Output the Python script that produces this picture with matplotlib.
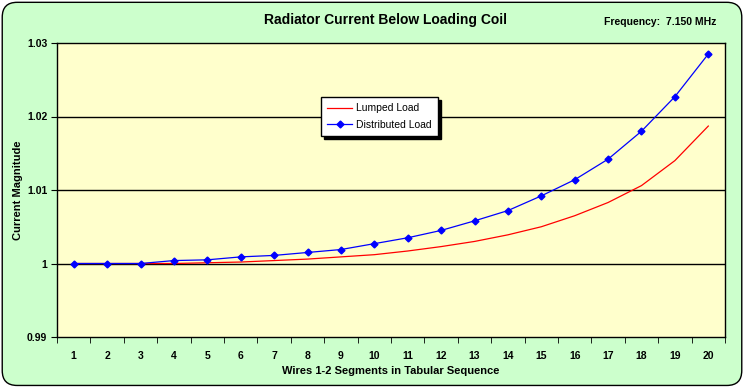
import matplotlib.pyplot as plt
from matplotlib.patches import FancyBboxPatch
import numpy as np

plt.rcParams["font.family"] = ["Liberation Sans", "DejaVu Sans"]
plt.rcParams["font.weight"] = "bold"

segments = list(range(1, 21))
lumped = [1.0000, 1.0000, 1.0000, 1.0000, 1.0001, 1.0002, 1.0004, 1.0006, 1.0009, 1.0012,
          1.0017, 1.0023, 1.0030, 1.0039, 1.0050, 1.0065, 1.0083, 1.0106, 1.0140, 1.0187]
distributed = [1.0000, 1.0000, 1.0000, 1.0004, 1.0005, 1.0009, 1.0011, 1.0015, 1.0019, 1.0027,
               1.0035, 1.0045, 1.0058, 1.0072, 1.0092, 1.0114, 1.0142, 1.0180, 1.0227, 1.0285]
y_ticks = [0.99, 1.00, 1.01, 1.02, 1.03]
y_labels = ["0.99", "1", "1.01", "1.02", "1.03"]


def main():
    fig = plt.figure(figsize=(7.44, 3.87), dpi=100)
    fig.patch.set_facecolor("white")
    bg = FancyBboxPatch((0.003, 0.004), 0.994, 0.99, boxstyle="round,pad=0,rounding_size=0.02",
                        transform=fig.transFigure, facecolor="#CCFFCC", edgecolor="black",
                        linewidth=1, mutation_aspect=744 / 387, zorder=-10)
    fig.patches.append(bg)

    ax = fig.add_axes([57 / 744, 1 - 337 / 387, 668 / 744, 294 / 387])
    ax.set_facecolor("#FFFFCC")

    ax.plot(segments, lumped, color="red", linewidth=0.9, label="Lumped Load")
    ax.plot(segments, distributed, color="blue", linewidth=0.9, marker="D", markersize=3.5,
            label="Distributed Load")

    ax.set_xlim(0.5, 20.5)
    ax.set_ylim(0.99, 1.03)
    ax.set_yticks(y_ticks)
    ax.set_yticklabels(y_labels, fontsize=7.5, fontweight="bold")
    ax.set_xticks(segments)
    ax.set_xticklabels([str(s) for s in segments], fontsize=7.5, fontweight="bold")
    ax.set_xticks(np.arange(0.5, 21, 1), minor=True)
    ax.tick_params(axis="x", which="major", length=0, pad=10)
    ax.tick_params(axis="x", which="minor", length=4, direction="out")
    ax.tick_params(axis="y", length=4, direction="out", pad=3)

    for yv in [1.00, 1.01, 1.02]:
        ax.axhline(yv, color="black", linewidth=1, zorder=0.5)
    for s in ax.spines.values():
        s.set_linewidth(1)

    ax.set_xlabel("Wires 1-2 Segments in Tabular Sequence", fontsize=8, fontweight="bold", labelpad=4)
    ax.set_ylabel("Current Magnitude", fontsize=8, fontweight="bold", labelpad=3)

    fig.text(385 / 744, 1 - 20 / 387, "Radiator Current Below Loading Coil", ha="center", va="center",
             fontsize=10, fontweight="bold")
    fig.text(660 / 744, 1 - 22 / 387, "Frequency:  7.150 MHz", ha="center", va="center",
             fontsize=7.5, fontweight="bold")

    leg = ax.legend(loc="upper left", bbox_to_anchor=(0.395, 0.816), borderaxespad=0,
                    fancybox=False, edgecolor="black", framealpha=1, facecolor="white",
                    shadow={"color": "black", "alpha": 1}, fontsize=7.5, handlelength=2.4,
                    borderpad=0.6, labelspacing=0.6, handletextpad=0.4)
    leg.get_frame().set_linewidth(1)
    for t in leg.get_texts():
        t.set_fontweight("normal")

    fig.savefig("out.png", dpi=100)
    plt.close(fig)


if __name__ == "__main__":
    main()
